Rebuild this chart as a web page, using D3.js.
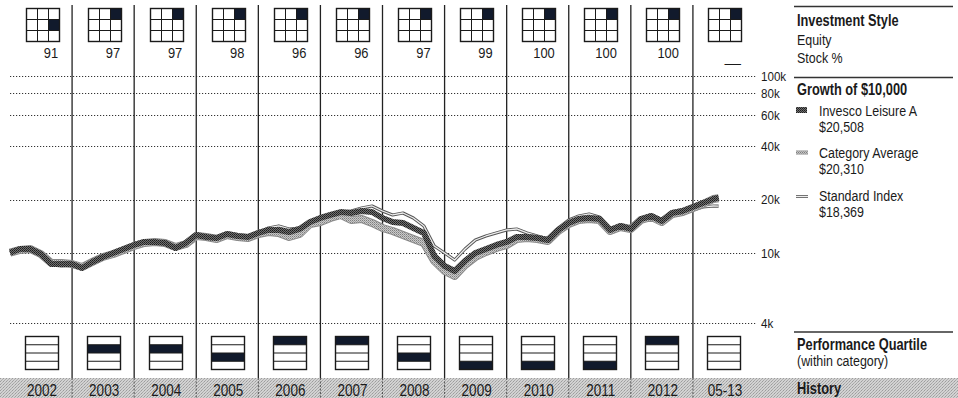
<!DOCTYPE html>
<html>
<head>
<meta charset="utf-8">
<script src="https://cdn.jsdelivr.net/npm/d3@7"></script>
<style>
html,body{margin:0;padding:0;background:#fff;}
svg{display:block;}
text{font-family:"Liberation Sans Narrow","Liberation Sans",Arial,sans-serif;fill:#1a1a1a;}
</style>
</head>
<body>
<svg id="chart" width="958" height="398"></svg>
<script>
// ---------------- DATA ----------------
const years = ["2002","2003","2004","2005","2006","2007","2008","2009","2010","2011","2012","05-13"];
const stockPct = ["91","97","97","98","96","96","97","99","100","100","100","—"];
// style box: filled cell row / column (0 = top / left)
const styleRow = [1,0,0,0,0,0,0,0,0,0,0,0];
const styleCol = [2,2,2,2,2,2,2,2,2,2,2,2];
// performance quartile (1 = top), null = none
const quartile = [null,2,2,3,1,1,3,4,4,4,1,null];

const gridTicks = [100000,80000,60000,40000,20000,10000,4000];
const gridLabels = ["100k","80k","60k","40k","20k","10k","4k"];

// month-end dates
const months = ["2001-12","2002-02","2002-04","2002-06","2002-08","2002-10","2002-12",
"2003-02","2003-04","2003-06","2003-08","2003-10","2003-12",
"2004-02","2004-04","2004-06","2004-08","2004-10","2004-12",
"2005-02","2005-04","2005-06","2005-08","2005-10","2005-12",
"2006-02","2006-04","2006-06","2006-08","2006-10","2006-12",
"2007-02","2007-04","2007-06","2007-08","2007-10","2007-12",
"2008-02","2008-04","2008-06","2008-08","2008-10","2008-12",
"2009-02","2009-04","2009-06","2009-08","2009-10","2009-12",
"2010-02","2010-04","2010-06","2010-08","2010-10","2010-12",
"2011-02","2011-04","2011-06","2011-08","2011-10","2011-12",
"2012-02","2012-04","2012-06","2012-08","2012-10","2012-12",
"2013-02","2013-04","2013-05"];

const invesco = [10000,10490,10490,9830,8630,8630,8630,
8190,8860,9455,9960,10490,11055,
11500,11500,11350,10630,11350,12595,
12270,12115,12760,12430,12270,12930,
13445,13445,13095,13620,14920,15720,
16345,16990,16775,17220,16990,15720,
14920,14730,13800,12930,9580,8410,
7880,8975,9960,10490,11055,11500,
12270,12270,12115,11800,13445,14730,
15510,15720,15510,13445,14165,13620,
15510,16135,15115,16775,17220,18145,
19110,20130,20508];

const category = [10000,10360,10490,9830,8745,8745,8630,
8300,8860,9455,9830,10360,10910,
11350,11500,11350,10770,11200,12430,
12270,11955,12595,12270,12115,12760,
13095,12930,12270,12760,14535,14920,
15720,16345,15315,15510,14730,13800,
13270,12595,11955,11350,8975,7880,
7385,8520,9455,10090,10630,11055,
11955,12115,11955,11650,13270,14535,
15315,15510,15315,13270,13980,13620,
15315,15920,14920,16560,16990,17910,
18860,20130,20310];

const stdIndex = [10000,10490,10360,9705,8520,8410,8520,
8190,8745,9330,9830,10360,10910,
11350,11350,11200,10630,11200,12430,
12270,11955,12595,12430,12270,12930,
13800,14165,13620,13800,14920,15720,
16345,16990,17220,17910,18380,17220,
16345,16775,15720,14165,10910,9960,
9090,10490,11800,12430,12930,13445,
13620,12930,12430,11955,13800,15315,
16135,16560,15920,13445,13980,13445,
15115,15720,14535,16135,16560,17445,
18145,18380,18369];

const legendNames = ["Invesco Leisure A","Category Average","Standard Index"];
const legendValues = ["$20,508","$20,310","$18,369"];

// ---------------- DRAW ----------------
const svg = d3.select("#chart");
const W = 958, H = 398;
const ink = "#1a1a1a", navy = "#111a2c";
const SX = 0.83; // condensed look

function T(t, x0, y0, size, opt={}) {
  return svg.append("text")
    .attr("transform", `translate(${x0},${y0}) scale(${opt.sx||SX},1)`)
    .attr("text-anchor", opt.anchor||"start")
    .attr("dy", opt.dy||null)
    .attr("font-size", size)
    .attr("font-weight", opt.bold ? "bold" : "normal")
    .text(t);
}

const defs = svg.append("defs");
const pInv = defs.append("pattern").attr("id","pInv").attr("width",2).attr("height",2).attr("patternUnits","userSpaceOnUse");
pInv.append("rect").attr("width",2).attr("height",2).attr("fill","#707070");
pInv.append("rect").attr("width",1).attr("height",1).attr("fill","#1c1c1c");
pInv.append("rect").attr("x",1).attr("y",1).attr("width",1).attr("height",1).attr("fill","#2e2e2e");
const pCat = defs.append("pattern").attr("id","pCat").attr("width",2).attr("height",2).attr("patternUnits","userSpaceOnUse");
pCat.append("rect").attr("width",2).attr("height",2).attr("fill","#cacaca");
pCat.append("rect").attr("width",1).attr("height",1).attr("fill","#7e7e7e");
pCat.append("rect").attr("x",1).attr("y",1).attr("width",1).attr("height",1).attr("fill","#a0a0a0");
const pHist = defs.append("pattern").attr("id","pHist").attr("width",3).attr("height",3).attr("patternUnits","userSpaceOnUse");
pHist.append("rect").attr("width",3).attr("height",3).attr("fill","#d2d2d2");
pHist.append("rect").attr("width",1).attr("height",1).attr("fill","#9c9c9c");
pHist.append("rect").attr("x",2).attr("y",1).attr("width",1).attr("height",1).attr("fill","#b0b0b0");
pHist.append("rect").attr("x",1).attr("y",2).attr("width",1).attr("height",1).attr("fill","#a8a8a8");

const left = 10, right = 755;
const col = d3.scaleBand().domain(years).range([left,right]).padding(0);
const x = d3.scaleTime().domain([new Date(2002,0,1), new Date(2014,0,1)]).range([left,right]);
const y = d3.scaleLog().domain([4000,100000]).range([323,76]);
const parseMonthEnd = s => { const [yy,mm] = s.split("-"); return new Date(+yy, +mm, 1); };

// History band
const histTop = 378;
svg.append("rect").attr("x",0).attr("y",histTop).attr("width",W).attr("height",H-histTop).attr("fill","url(#pHist)");

// horizontal dotted gridlines
svg.append("g").selectAll("line").data(gridTicks).join("line")
  .attr("x1",left).attr("x2",right+1)
  .attr("y1",d=>Math.round(y(d))+0.5).attr("y2",d=>Math.round(y(d))+0.5)
  .attr("stroke","#333").attr("stroke-width",1).attr("stroke-dasharray","1.2,1.8");
gridTicks.forEach((d,i)=>T(gridLabels[i], right+6, y(d), 13.5, {dy:"0.36em", sx:0.86}));

// vertical column separators
const seps = years.slice(1);
svg.append("g").selectAll("line").data(seps).join("line")
  .attr("x1",d=>col(d)).attr("x2",d=>col(d)).attr("y1",5).attr("y2",histTop)
  .attr("stroke","#222").attr("stroke-width",1.3);
svg.append("g").selectAll("line").data(seps).join("line")
  .attr("x1",d=>col(d)).attr("x2",d=>col(d)).attr("y1",histTop).attr("y2",H)
  .attr("stroke","#555").attr("stroke-width",1).attr("stroke-dasharray","2,1.5");

// style boxes
const bs = 33;
years.forEach((yr,i)=>{
  const cx = col(yr) + col.bandwidth()/2 + 1;
  const g = svg.append("g").attr("transform",`translate(${Math.round(cx - bs/2)+0.5},8.5)`);
  const c = bs/3;
  g.append("rect").attr("x",styleCol[i]*c).attr("y",styleRow[i]*c).attr("width",c).attr("height",c).attr("fill",navy);
  [1,2].forEach(k=>{
    g.append("line").attr("x1",k*c).attr("x2",k*c).attr("y1",0).attr("y2",bs).attr("stroke",ink).attr("stroke-width",1);
    g.append("line").attr("y1",k*c).attr("y2",k*c).attr("x1",0).attr("x2",bs).attr("stroke",ink).attr("stroke-width",1);
  });
  g.append("rect").attr("width",bs).attr("height",bs).attr("fill","none").attr("stroke",ink).attr("stroke-width",1.4);
  const isDash = stockPct[i] === "—";
  T(stockPct[i], col(yr)+col.bandwidth()-14, isDash ? 68 : 57.5, 15, {anchor:"end", sx: isDash ? 1.1 : 0.86});
});

// quartile boxes + history labels
years.forEach((yr,i)=>{
  const cx = col(yr) + col.bandwidth()/2;
  const g = svg.append("g").attr("transform",`translate(${Math.round(cx - bs/2)+0.5},336.5)`);
  const r = bs/4;
  if (quartile[i] != null) {
    g.append("rect").attr("x",0).attr("y",(quartile[i]-1)*r).attr("width",bs).attr("height",r).attr("fill",navy);
  }
  [1,2,3].forEach(k=>{
    g.append("line").attr("x1",0).attr("x2",bs).attr("y1",k*r).attr("y2",k*r).attr("stroke",ink).attr("stroke-width",1);
  });
  g.append("rect").attr("width",bs).attr("height",bs).attr("fill","none").attr("stroke",ink).attr("stroke-width",1.4);
  T(yr, cx+1, 395.5, 16.5, {anchor:"middle", sx:0.82});
});

// growth lines
const line = d3.line().x((d,i)=>x(parseMonthEnd(months[i]))).y(d=>y(d)).curve(d3.curveLinear);
svg.append("path").datum(stdIndex).attr("d",line).attr("fill","none")
  .attr("stroke","#555").attr("stroke-width",3.2).attr("stroke-linejoin","round");
svg.append("path").datum(stdIndex).attr("d",line).attr("fill","none")
  .attr("stroke","#eee").attr("stroke-width",1.3).attr("stroke-linejoin","round");
svg.append("path").datum(category).attr("d",line).attr("fill","none")
  .attr("stroke","#8a8a8a").attr("stroke-width",8).attr("stroke-linejoin","round");
svg.append("path").datum(category).attr("d",line).attr("fill","none")
  .attr("stroke","url(#pCat)").attr("stroke-width",6).attr("stroke-linejoin","round");
svg.append("path").datum(invesco).attr("d",line).attr("fill","none")
  .attr("stroke","url(#pInv)").attr("stroke-width",6).attr("stroke-linejoin","round");

// ---------------- RIGHT PANEL ----------------
const px = 797;
const rule = yy => svg.append("line").attr("x1",794).attr("x2",953).attr("y1",yy).attr("y2",yy)
  .attr("stroke","#333").attr("stroke-width",1.3);
rule(6.5); rule(77.5); rule(332);

T("Investment Style", px, 26, 16, {bold:true, sx:0.8});
T("Equity", px, 45, 15);
T("Stock %", px, 63, 15);
T("Growth of $10,000", px, 95, 16, {bold:true, sx:0.8});

const legY = [116,158,201];
legendNames.forEach((n,i)=>{
  T(n, 819, legY[i], 15);
  T(legendValues[i], 819, legY[i]+16, 15);
});
svg.append("rect").attr("x",796).attr("y",107).attr("width",11).attr("height",6).attr("fill","url(#pInv)");
svg.append("line").attr("x1",796).attr("x2",808).attr("y1",152.5).attr("y2",152.5).attr("stroke","#8a8a8a").attr("stroke-width",4);
svg.append("line").attr("x1",796).attr("x2",808).attr("y1",152.5).attr("y2",152.5).attr("stroke","url(#pCat)").attr("stroke-width",2.5);
svg.append("line").attr("x1",796).attr("x2",808).attr("y1",196.5).attr("y2",196.5).attr("stroke","#666").attr("stroke-width",3);
svg.append("line").attr("x1",796).attr("x2",808).attr("y1",196.5).attr("y2",196.5).attr("stroke","#eee").attr("stroke-width",1.2);

T("Performance Quartile", px, 350, 16, {bold:true, sx:0.8});
T("(within category)", px, 366, 15);
T("History", px, 394, 16, {bold:true, sx:0.8});
</script>
</body>
</html>
